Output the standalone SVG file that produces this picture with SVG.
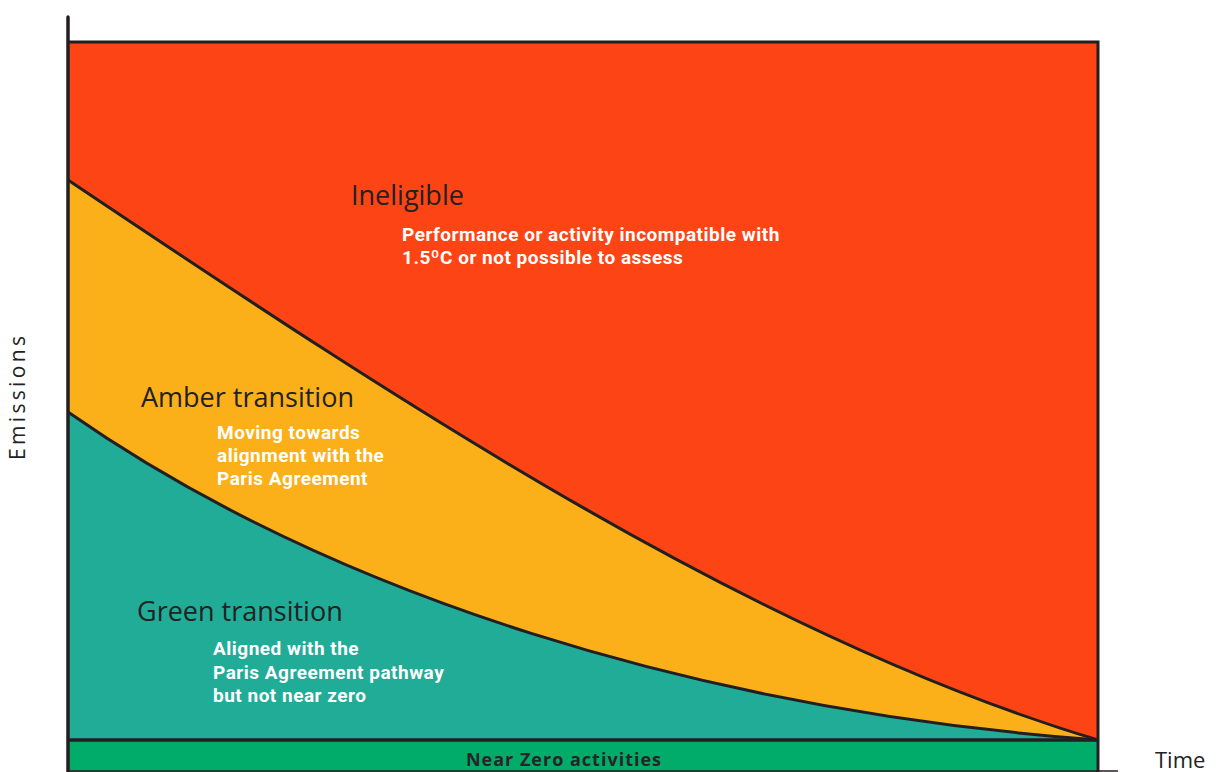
<svg xmlns="http://www.w3.org/2000/svg" width="1220" height="772" viewBox="0 0 1220 772">
<style>
.head{font-family:"Open Sans","Liberation Sans",sans-serif;font-size:27px;fill:#222222}
.body{font-family:Roboto,"Liberation Sans",sans-serif;font-weight:700;font-size:19px;letter-spacing:0.5px;fill:#ffffff}
.edge{fill:none;stroke:#231f20;stroke-width:3}
</style>
<rect x="0" y="0" width="1220" height="772" fill="#ffffff"/>
<g id="ineligible">
<rect x="68" y="42" width="1030" height="698" fill="#fc4415"/>
<text class="head" x="351" y="205" font-size="28">Ineligible</text>
<text class="body" x="402" y="241">Performance or activity incompatible with</text>
<text class="body" x="402" y="264">1.5ºC or not possible to assess</text>
</g>
<g id="amber">
<path d="M68,180 C411,410 755,637 1098,740 L68,740 Z" fill="#fbb01a"/>
<text class="head" x="141" y="407">Amber transition</text>
<text class="body" x="217" y="439">Moving towards</text>
<text class="body" x="217" y="462">alignment with the</text>
<text class="body" x="217" y="485">Paris Agreement</text>
</g>
<g id="green">
<path d="M68,412 C330,595 698,710 1098,740 L68,740 Z" fill="#21ac97"/>
<text class="head" x="137" y="621">Green transition</text>
<text class="body" x="213" y="655">Aligned with the</text>
<text class="body" x="213" y="679">Paris Agreement pathway</text>
<text class="body" x="213" y="702">but not near zero</text>
</g>
<g id="nearzero">
<rect x="68" y="741" width="1030" height="31" fill="#01ab6a"/>
<text x="564" y="766" text-anchor="middle" font-family="'Open Sans','Liberation Sans',sans-serif" font-weight="700" font-size="18" letter-spacing="1" fill="#262626">Near Zero activities</text>
</g>
<g id="connectors">
<path class="edge" d="M68,180 C411,410 755,637 1098,740"/>
<path class="edge" d="M68,412 C330,595 698,710 1098,740"/>
<path class="edge" d="M68,42 H1098 V772"/>
<line x1="68" y1="740" x2="1098" y2="740" stroke="#231f20" stroke-width="3.5"/>
<line x1="68" y1="17" x2="68" y2="772" stroke="#231f20" stroke-width="3.5" stroke-linecap="round"/>
<line x1="68" y1="771" x2="1118" y2="771" stroke="#231f20" stroke-width="1.5"/>
</g>
<g id="axis-labels">
<text transform="translate(25,398) rotate(-90)" text-anchor="middle" font-family="'Open Sans','Liberation Sans',sans-serif" font-size="21" textLength="124" lengthAdjust="spacing" fill="#222222">Emissions</text>
<text x="1155" y="768" font-family="'Open Sans','Liberation Sans',sans-serif" font-size="22" fill="#222222">Time</text>
</g>
</svg>
